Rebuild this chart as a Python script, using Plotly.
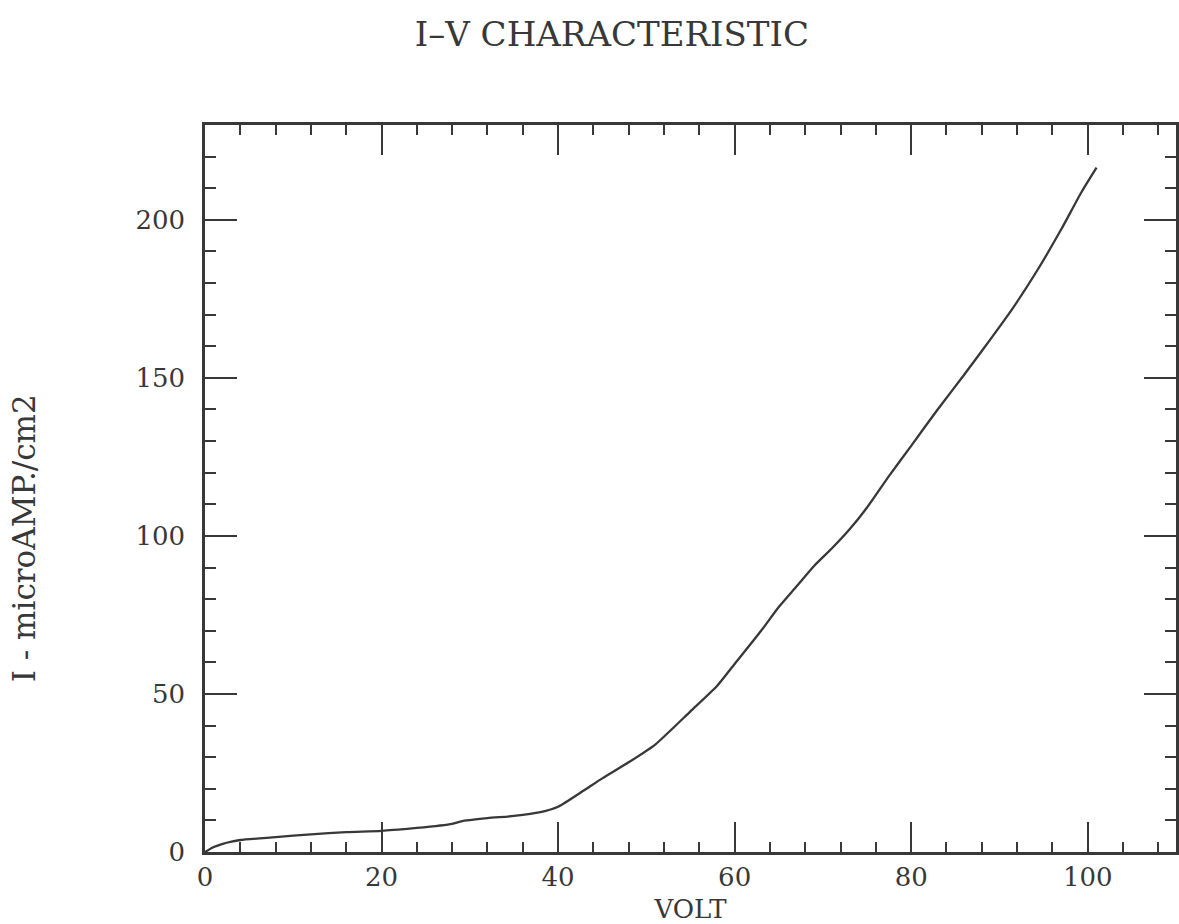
import plotly.graph_objects as go

# Data (Volt vs current density in microAMP/cm2)
volt = [0, 1, 2, 3, 4, 8, 12, 16, 20, 24, 28, 29, 32, 35, 38, 40, 43, 45, 48, 51,
        55, 58, 60, 63, 65, 67, 69, 71, 73, 75, 77.5, 80, 83, 86, 88, 91.5, 94.5,
        97, 99.3, 101]
current = [0, 1.6, 2.6, 3.3, 3.8, 4.7, 5.6, 6.3, 6.7, 7.6, 8.9, 9.7, 10.7, 11.4,
           12.6, 14.3, 19.6, 23.3, 28.4, 34.0, 44.5, 52.5, 59.5, 70.0, 77.5, 84.0,
           90.5, 96.0, 102.0, 109.0, 119.0, 128.5, 140.0, 151.0, 158.5, 172.0,
           185.0, 197.0, 208.8, 216.5]

x_tickvals = [0, 20, 40, 60, 80, 100]
y_tickvals = [0, 50, 100, 150, 200]

INK = "#383838"
FONT = "DejaVu Serif"

fig = go.Figure()
fig.add_trace(go.Scatter(x=volt, y=current, mode="lines",
                         line=dict(color=INK, width=2.3, shape="spline", smoothing=0.6),
                         showlegend=False, hoverinfo="skip"))

fig.update_layout(
    width=1179, height=924,
    margin=dict(l=205, r=0, t=125, b=72),
    paper_bgcolor="white", plot_bgcolor="white",
    title=dict(text="I–V CHARACTERISTIC", x=0.519, xanchor="center",
               y=0.963, yanchor="middle",
               font=dict(family=FONT, size=34, color=INK)),
    font=dict(family=FONT, color=INK),
    showlegend=False,
)

fig.update_xaxes(
    range=[0, 110], tickvals=x_tickvals, ticktext=[str(v) for v in x_tickvals],
    ticks="inside", ticklen=30, tickwidth=2, tickcolor=INK,
    minor=dict(dtick=4, tick0=0, ticks="inside", ticklen=10, tickwidth=2, tickcolor=INK, showgrid=False),
    showline=True, linecolor=INK, linewidth=2.5, mirror="allticks",
    showgrid=False, zeroline=False,
    tickfont=dict(family=FONT, size=26, color=INK), ticklabelstandoff=0,
    title=dict(text="VOLT", font=dict(family=FONT, size=26, color=INK), standoff=10),
)
fig.update_yaxes(
    range=[0, 230], tickvals=y_tickvals, ticktext=[str(v) for v in y_tickvals],
    ticks="inside", ticklen=32, tickwidth=2, tickcolor=INK,
    minor=dict(dtick=10, tick0=0, ticks="inside", ticklen=11, tickwidth=2, tickcolor=INK, showgrid=False),
    showline=True, linecolor=INK, linewidth=2.5, mirror="allticks",
    showgrid=False, zeroline=False,
    tickfont=dict(family=FONT, size=26, color=INK), ticklabelstandoff=12,
)

fig.add_annotation(text="I - microAMP./cm2", xref="paper", yref="paper",
                   x=-0.186, y=0.432, xanchor="center", yanchor="middle",
                   textangle=-90, showarrow=False,
                   font=dict(family=FONT, size=31, color=INK))

fig.write_html("out.html", config={"displayModeBar": False},
               post_script="document.body.style.margin='0';document.body.style.overflow='hidden';")
